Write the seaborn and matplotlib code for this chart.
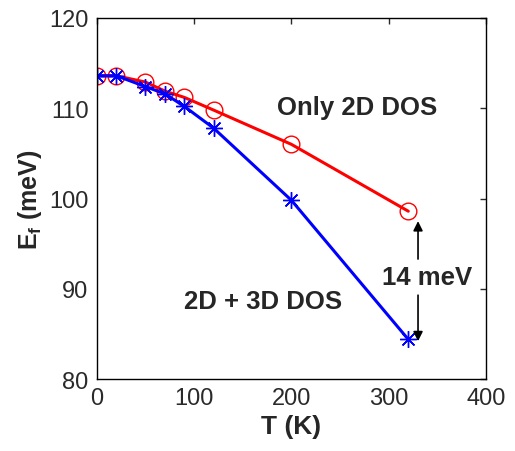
import numpy as np
import pandas as pd
import seaborn as sns
import matplotlib.pyplot as plt

# temperatures (K) and Fermi level (meV)
T = [0, 20, 50, 70, 90, 120, 200, 320]
ef_2d = [113.6, 113.6, 112.9, 111.9, 111.2, 109.8, 106.0, 98.6]
ef_2d3d = [113.6, 113.6, 112.4, 111.6, 110.2, 107.8, 99.8, 84.4]

sns.set_style("white")
plt.rcParams['font.family'] = ['Liberation Sans', 'DejaVu Sans']

fig = plt.figure(figsize=(5.15, 4.52), dpi=100)
ax = fig.add_axes([0.188, 0.159, 0.756, 0.799])

df2 = pd.DataFrame({'T': T, 'Ef': ef_2d})
df3 = pd.DataFrame({'T': T, 'Ef': ef_2d3d})

sns.lineplot(data=df2, x='T', y='Ef', ax=ax, color='#ff0000', linewidth=2.2,
             marker='o', markersize=12, markerfacecolor='none',
             markeredgecolor='#ff0000', markeredgewidth=1.0)
sns.lineplot(data=df3, x='T', y='Ef', ax=ax, color='#0000ff', linewidth=2.2,
             marker=(8, 2, 0), markersize=12, markeredgecolor='#0000ff',
             markeredgewidth=1.0)

ax.set_xlim(0, 400)
ax.set_ylim(80, 120)
ax.set_xticks([0, 100, 200, 300, 400])
ax.set_yticks([80, 90, 100, 110, 120])
ax.tick_params(direction='in', top=True, right=True, length=4, width=1,
               labelsize=17, colors='#2a2a2a', pad=6)
for s in ax.spines.values():
    s.set_color('black')
    s.set_linewidth(1)

ax.set_xlabel('T (K)', fontsize=19, fontweight='bold', labelpad=3)
ax.set_ylabel(r'E$_\mathregular{f}$ (meV)', fontsize=18, fontweight='bold', labelpad=4)

ax.text(267, 110.1, 'Only 2D DOS', fontsize=18.5, fontweight='bold',
        ha='center', va='center')
ax.text(171, 88.6, '2D + 3D DOS', fontsize=18.5, fontweight='bold',
        ha='center', va='center')
ax.text(339, 91.3, '14 meV', fontsize=18.5, fontweight='bold',
        ha='center', va='center')

ax.annotate('', xy=(330, 97.5), xytext=(330, 93.3),
            arrowprops=dict(arrowstyle='-|>', color='black', lw=1.2,
                            mutation_scale=14, shrinkA=0, shrinkB=0))
ax.annotate('', xy=(330, 84.2), xytext=(330, 89.3),
            arrowprops=dict(arrowstyle='-|>', color='black', lw=1.2,
                            mutation_scale=14, shrinkA=0, shrinkB=0))

fig.savefig('out.png', dpi=100)
